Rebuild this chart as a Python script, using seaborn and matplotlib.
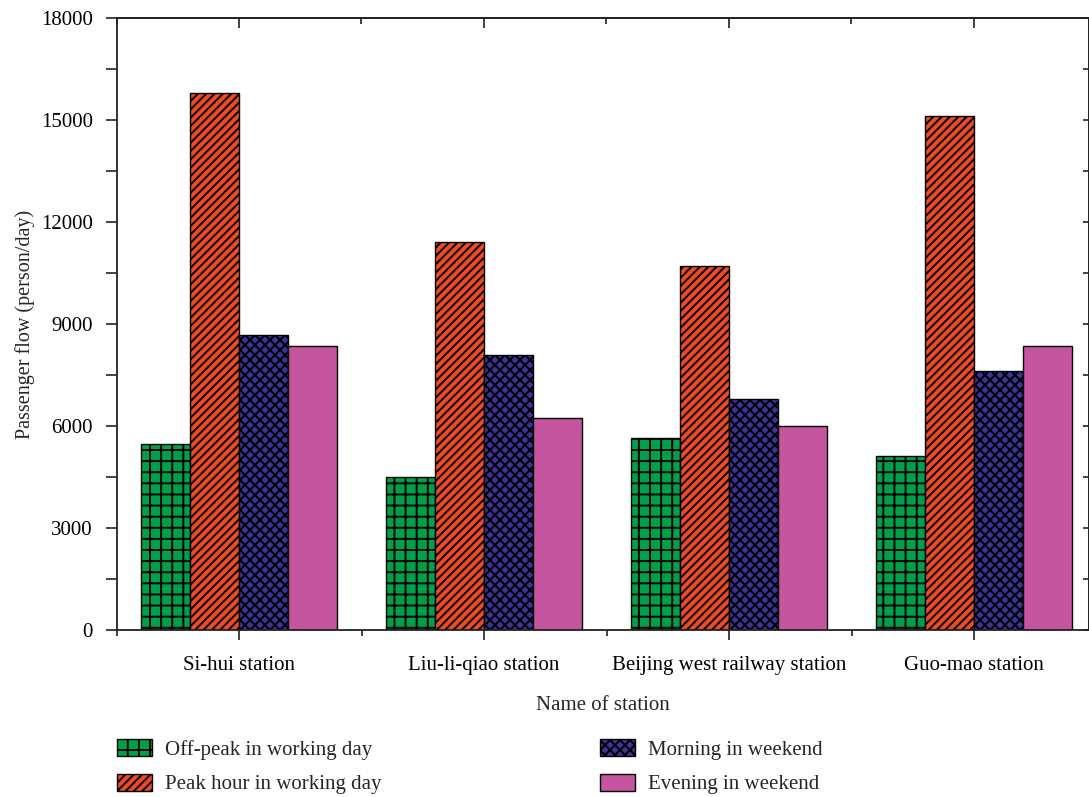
import numpy as np
import pandas as pd
import matplotlib
matplotlib.use("Agg")
import matplotlib.pyplot as plt
import seaborn as sns
from matplotlib.ticker import MultipleLocator, FixedLocator, NullFormatter
from matplotlib.patches import Patch
from matplotlib.backend_bases import GraphicsContextBase
from matplotlib.path import Path

stations = ["Si-hui station", "Liu-li-qiao station", "Beijing west railway station", "Guo-mao station"]
series = ["Off-peak in working day", "Peak hour in working day", "Morning in weekend", "Evening in weekend"]
offpeak_work = [5480, 4510, 5640, 5130]
peak_work = [15800, 11400, 10700, 15110]
morning_weekend = [8680, 8080, 6790, 7610]
evening_weekend = [8360, 6250, 6010, 8350]
yticks = [0, 3000, 6000, 9000, 12000, 15000, 18000]

colors = ["#00A04B", "#F04A23", "#3C3297", "#C4559E"]
hatches = ["+", "/", "x", ""]

# hatch line density per pattern (lines per hatch unit)
HATCH_DENSITY = {"+": 9, "/": 24, "x": 20}


def _get_hatch_path(self, density=6.0):
    hatch = self.get_hatch()
    if hatch is None:
        return None
    return Path.hatch(hatch, HATCH_DENSITY.get(hatch, density))


GraphicsContextBase.get_hatch_path = _get_hatch_path

rows = []
for s, vals in zip(series, [offpeak_work, peak_work, morning_weekend, evening_weekend]):
    for st, v in zip(stations, vals):
        rows.append({"station": st, "series": s, "value": v})
df = pd.DataFrame(rows)

sns.set_theme(style="ticks")
plt.rcParams["font.family"] = ["Liberation Serif", "DejaVu Serif"]
plt.rcParams["hatch.linewidth"] = 1.4
plt.rcParams["hatch.color"] = "black"

fig = plt.figure(figsize=(10.89, 7.97), dpi=100)
ax = fig.add_axes([116.5 / 1089, 1 - 630 / 797, 1 - 116.5 / 1089, (630 - 18) / 797])

sns.barplot(data=df, x="station", y="value", hue="series", order=stations,
            hue_order=series, palette=colors, width=0.8, dodge=True,
            saturation=1, edgecolor="black", linewidth=1.0, legend=False, ax=ax,
            errorbar=None)

for cont, h in zip(ax.containers, hatches):
    for p in cont:
        p.set_hatch(h)
        p.set_edgecolor("black")

xlim = (-0.5, 3 + (1089 - 974) / 245)
ax.set_xlim(*xlim)
ax.set_ylim(0, 18000)
ax.set_yticks(yticks)
ax.yaxis.set_minor_locator(MultipleLocator(1500))
bounds = [-0.5, 0.5, 1.5, 2.5, 3.5]
ax.xaxis.set_minor_locator(FixedLocator(bounds))

spine_color = "#222222"
for side in ["left", "right", "top", "bottom"]:
    ax.spines[side].set_visible(True)
    ax.spines[side].set_linewidth(1.3)
    ax.spines[side].set_color(spine_color)

ax.tick_params(axis="y", which="both", direction="out", length=8, width=1.2,
               left=True, right=False, labelsize=15, color=spine_color,
               labelcolor="black", pad=9)
ax.tick_params(axis="x", which="major", direction="out", length=7.5, width=1.2,
               bottom=True, top=False, labelsize=15, color=spine_color,
               labelcolor="black", pad=11)
ax.tick_params(axis="x", which="minor", direction="out", length=4, width=1.2,
               bottom=True, top=False, color=spine_color)

# inward ticks on top and right
top = ax.secondary_xaxis("top")
top.set_xticks([0, 1, 2, 3])
top.xaxis.set_minor_locator(FixedLocator(bounds))
top.xaxis.set_major_formatter(NullFormatter())
top.tick_params(axis="x", which="major", direction="in", length=7.5, width=1.2, color=spine_color)
top.tick_params(axis="x", which="minor", direction="in", length=4, width=1.2, color=spine_color)
top.spines["top"].set_linewidth(1.3)
top.spines["top"].set_color(spine_color)

right = ax.secondary_yaxis("right")
right.set_yticks(yticks)
right.yaxis.set_minor_locator(MultipleLocator(1500))
right.yaxis.set_major_formatter(NullFormatter())
right.tick_params(axis="y", which="both", direction="in", length=4.5, width=1.2, color=spine_color)
right.spines["right"].set_linewidth(1.3)
right.spines["right"].set_color(spine_color)

ax.set_xlabel("Name of station", fontsize=15, labelpad=15)
ax.set_ylabel("Passenger flow (person/day)", fontsize=14.5, labelpad=4)

handles = [Patch(facecolor=c, edgecolor="black", hatch=h, linewidth=1.0) for c, h in zip(colors, hatches)]
fig.legend(handles, series, ncol=2, loc="upper left", bbox_to_anchor=(117 / 1089, 1 - 739 / 797),
           frameon=False, fontsize=15, handlelength=1.68, handleheight=0.9,
           columnspacing=10.5, labelspacing=0.66, handletextpad=0.62,
           borderaxespad=0, borderpad=0)

fig.savefig("out.png", dpi=100)
